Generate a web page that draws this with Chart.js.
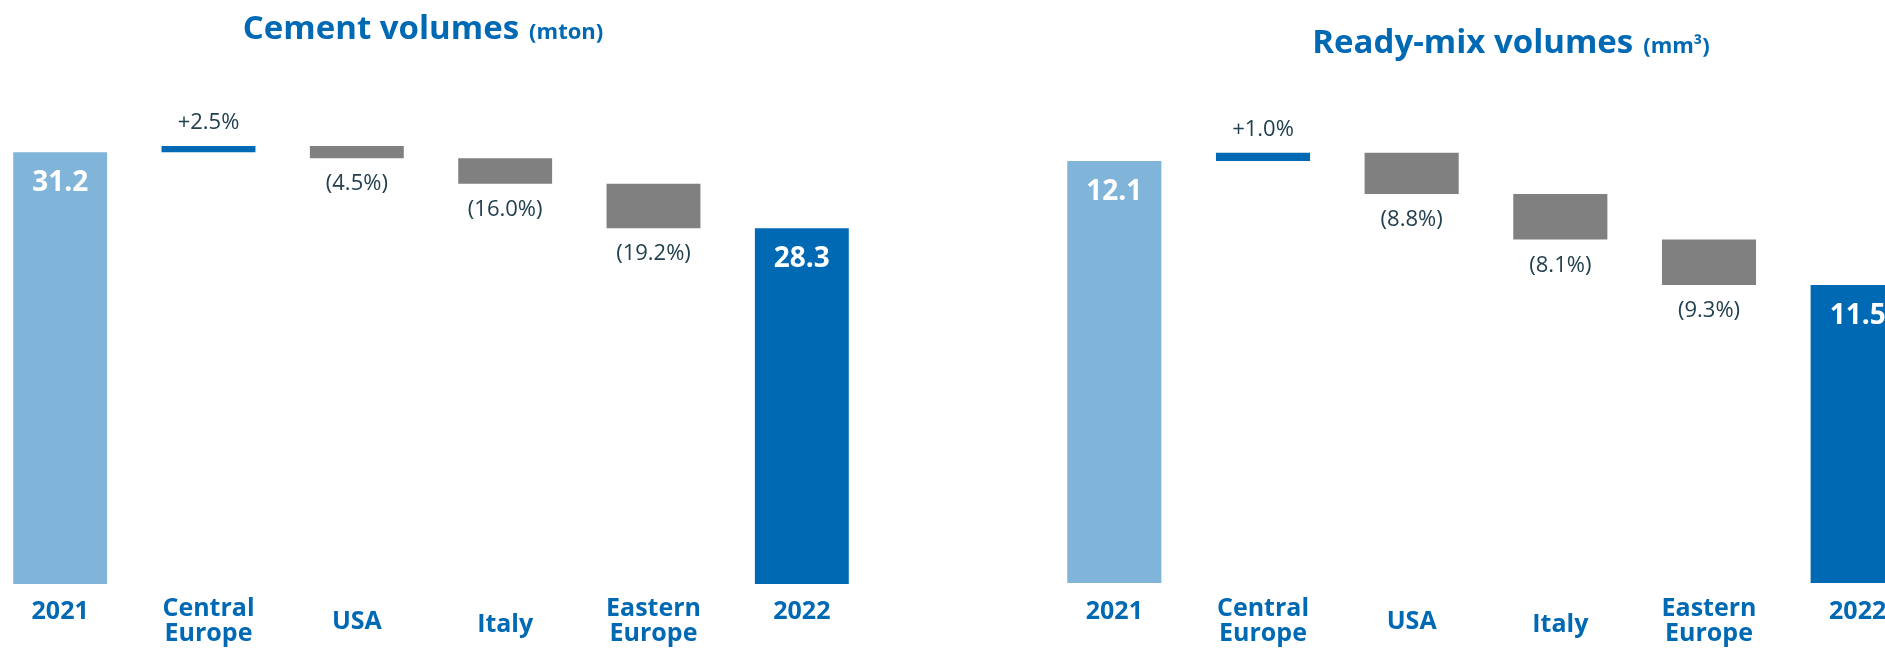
<!DOCTYPE html>
<html>
<head>
<meta charset="utf-8">
<script src="https://cdn.jsdelivr.net/npm/chart.js@4/dist/chart.umd.min.js"></script>
<style>
  html, body { margin: 0; padding: 0; background: #ffffff; overflow: hidden; width: 1885px; height: 654px; position: relative; }
  canvas { position: absolute; top: 0; }
  #cement { left: -14px; }
  #readymix { left: 1040px; }
</style>
</head>
<body>
<canvas id="cement" width="890" height="654"></canvas>
<canvas id="readymix" width="892" height="654"></canvas>
<script>
// ---- Data ----
const categories = [['2021'], ['Central', 'Europe'], ['USA'], ['Italy'], ['Eastern', 'Europe'], ['2022']];

// Cement volumes (mton)
const cementStart = 31.2;
const cementDeltas = [0.23, -0.46, -0.98, -1.69];
const cementEnd = 28.3;
const cementChanges = ['+2.5%', '(4.5%)', '(16.0%)', '(19.2%)'];

// Ready-mix volumes (mm³)
const readyMixStart = 12.1;
const readyMixDeltas = [0.04, -0.20, -0.22, -0.22];
const readyMixEnd = 11.5;
const readyMixChanges = ['+1.0%', '(8.8%)', '(8.1%)', '(9.3%)'];

// ---- Style ----
const BLUE = '#0069b3';
const LIGHT_BLUE = '#80b4d9';
const GREY = '#808080';
const NOTE = '#22404f';
const FONT = '"Open Sans", "Noto Sans", sans-serif';
// first-line baseline of each category label
const labelBaselines = [619, 616, 629, 632, 616, 619];
const labelLineHeight = 25;

// Floating spans for a waterfall: opening total, steps, closing total
function waterfallSpans(start, deltas, end, floor) {
  const spans = [[floor, start]];
  let level = start;
  deltas.forEach(d => {
    spans.push([level, level + d]);
    level += d;
  });
  spans.push([floor, end]);
  return spans;
}

function barColors(deltas) {
  return [LIGHT_BLUE, ...deltas.map(d => d >= 0 ? BLUE : GREY), BLUE];
}

const waterfallText = {
  id: 'waterfallText',
  afterDatasetsDraw(chart, args, opts) {
    const ctx = chart.ctx;
    const meta = chart.getDatasetMeta(0);
    const xScale = chart.scales.x;
    const n = meta.data.length;
    ctx.save();

    // Title: main text plus smaller unit
    ctx.fillStyle = BLUE;
    ctx.textBaseline = 'alphabetic';
    ctx.textAlign = 'left';
    const mainFont = 'bold 33px ' + FONT;
    const unitFont = 'bold 22px ' + FONT;
    ctx.font = mainFont;
    const mainW = ctx.measureText(opts.title).width;
    ctx.font = unitFont;
    const unitW = ctx.measureText(opts.unit).width;
    const gap = 10;
    const x0 = opts.titleX - (mainW + gap + unitW) / 2;
    ctx.font = mainFont;
    ctx.fillText(opts.title, x0, opts.titleY);
    ctx.font = unitFont;
    ctx.fillText(opts.unit, x0 + mainW + gap, opts.titleY);

    // Totals inside the first and last bars
    ctx.textAlign = 'center';
    ctx.textBaseline = 'middle';
    ctx.fillStyle = '#ffffff';
    ctx.font = 'bold 28px ' + FONT;
    [[0, opts.start], [n - 1, opts.end]].forEach(([i, v]) => {
      const el = meta.data[i];
      const top = Math.min(el.y, el.base);
      ctx.fillText(v.toFixed(1), el.x, top + 31);
    });

    // Percentage changes above rises, below falls
    ctx.fillStyle = NOTE;
    ctx.font = '22px ' + FONT;
    opts.deltas.forEach((d, k) => {
      const el = meta.data[k + 1];
      const top = Math.min(el.y, el.base);
      const bottom = Math.max(el.y, el.base);
      const y = d >= 0 ? top - 23 : bottom + 26;
      ctx.fillText(opts.changes[k], el.x, y);
    });

    // Category labels
    ctx.fillStyle = BLUE;
    ctx.font = 'bold 25px ' + FONT;
    ctx.textBaseline = 'alphabetic';
    categories.forEach((lines, i) => {
      const x = xScale.getPixelForValue(i);
      lines.forEach((line, j) => {
        ctx.fillText(line, x, labelBaselines[i] + j * labelLineHeight);
      });
    });
    ctx.restore();
  }
};

function makeWaterfall(id, start, deltas, end, changes, yMin, yMax, padBottom, title, unit, titleX, titleY) {
  return new Chart(document.getElementById(id), {
    type: 'bar',
    data: {
      labels: categories,
      datasets: [{
        data: waterfallSpans(start, deltas, end, yMin),
        backgroundColor: barColors(deltas),
        borderWidth: 0,
        barPercentage: 0.633,
        categoryPercentage: 1.0
      }]
    },
    options: {
      responsive: false,
      animation: false,
      devicePixelRatio: 1,
      layout: { padding: { top: 100, bottom: padBottom, left: 0, right: 0 } },
      scales: {
        x: { display: false, offset: true, grid: { display: false } },
        y: { display: false, min: yMin, max: yMax, grid: { display: false } }
      },
      plugins: {
        legend: { display: false },
        tooltip: { enabled: false },
        title: { display: false },
        waterfallText: { title, unit, titleX, titleY, start, end, deltas, changes }
      }
    },
    plugins: [waterfallText]
  });
}

makeWaterfall('cement', cementStart, cementDeltas, cementEnd, cementChanges,
  14.72, 33.19, 70, 'Cement volumes', '(mton)', 437, 39);
makeWaterfall('readymix', readyMixStart, readyMixDeltas, readyMixEnd, readyMixChanges,
  10.058, 12.395, 71, 'Ready-mix volumes', '(mm³)', 471, 53);
</script>
</body>
</html>
